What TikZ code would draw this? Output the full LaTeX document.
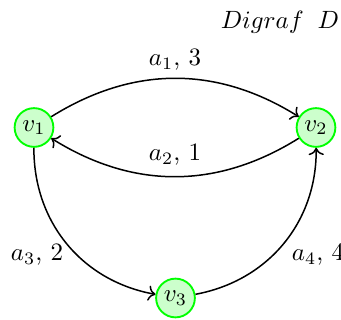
\documentclass[tikz,border=0pt]{standalone}
\usetikzlibrary{arrows.meta}
\begin{document}
\begin{tikzpicture}[x=0.40pt,y=-0.40pt,
  vert/.style={circle,draw=green,fill=green!20,line width=0.75pt,minimum size=15.5pt,inner sep=0pt},
  arc/.style={->,semithick},
  lab/.style={inner sep=0pt}]
\useasboundingbox (0,0) rectangle (341,320);
\node[vert] (v1) at (34,127.5) {$v_1$};
\node[vert] (v2) at (316,127.5) {$v_2$};
\node[vert] (v3) at (175.5,298) {$v_3$};
\node[lab] (t) at (280,22) {$Digraf\;\;D$};
\node[lab] (l1) at (175,60) {$a_1$, $3$};
\node[lab] (l2) at (175,155) {$a_2$, $1$};
\node[lab] (l3) at (37,255) {$a_3$, $2$};
\node[lab] (l4) at (318,255) {$a_4$, $4$};
\draw[arc] (v1) to[bend left=32] (v2);
\draw[arc] (v2) to[bend left=32] (v1);
\draw[arc] (v1) to[bend right=40] (v3);
\draw[arc] (v3) to[bend right=40] (v2);
\end{tikzpicture}
\end{document}
